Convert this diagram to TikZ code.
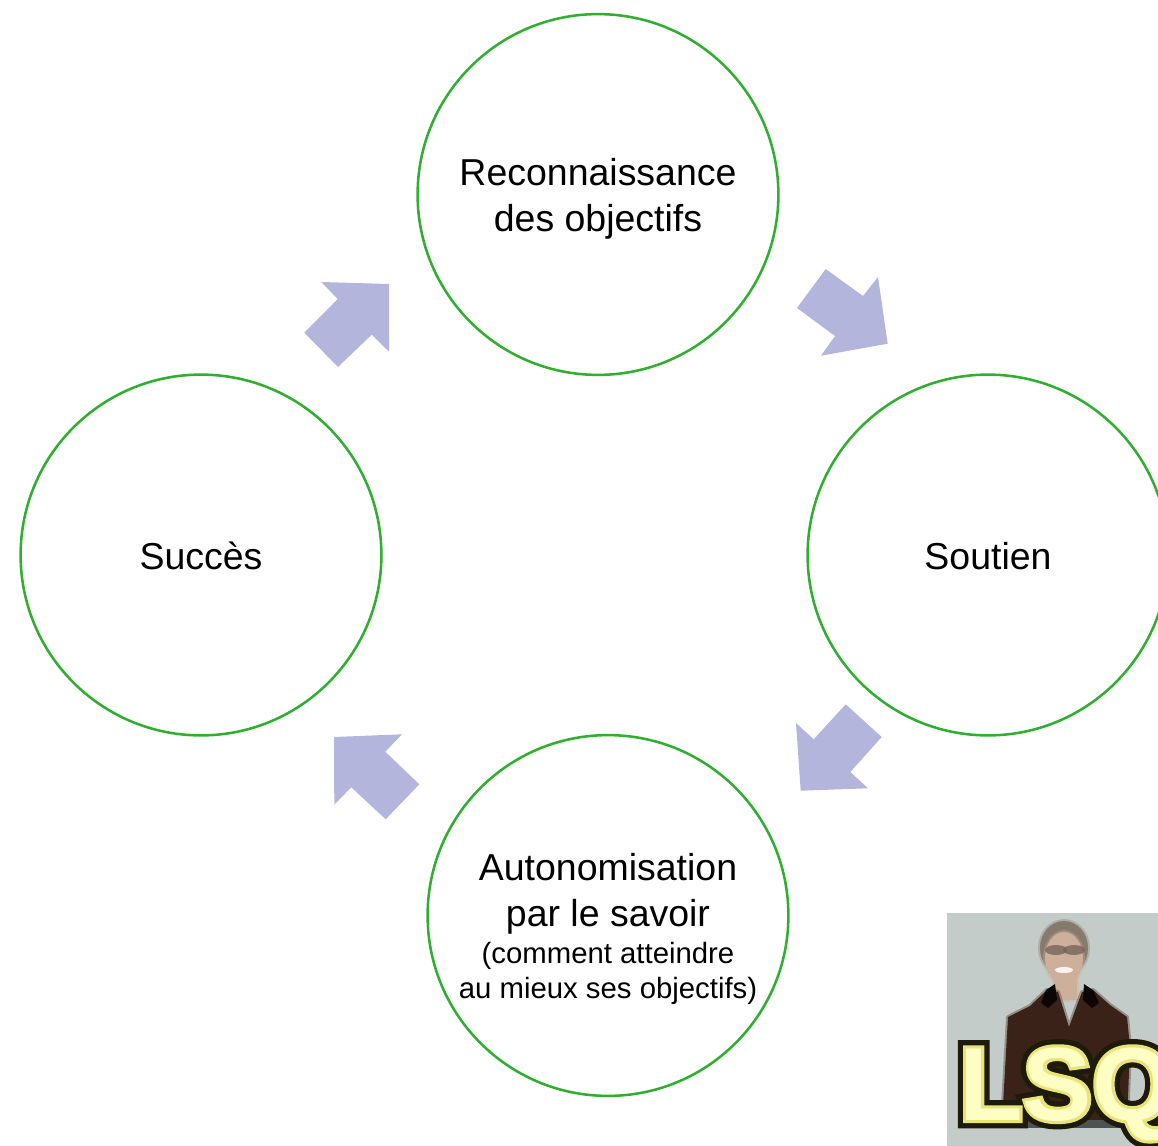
\documentclass[tikz,border=0pt]{standalone}
\usepackage{fontspec}
\setmainfont{Liberation Sans}
\newfontfamily\lsqheavy[FakeBold=16]{Liberation Sans Bold}
\newfontfamily\lsqmedium[FakeBold=6]{Liberation Sans Bold}
\newfontfamily\lsqplain{Liberation Sans Bold}
\definecolor{ringgreen}{HTML}{2FAE2F}
\definecolor{arrowblue}{HTML}{B4B5DC}
\definecolor{photobg}{HTML}{C3CCC8}
\definecolor{shirt}{HTML}{3A2219}
\definecolor{hairc}{HTML}{857A6C}
\definecolor{skin}{HTML}{CDB09A}
\definecolor{lsqdark}{HTML}{1E1A0C}
\definecolor{lsqmid}{HTML}{E8E478}
\definecolor{lsqpale}{HTML}{FDFDC4}
\tikzset{
  x=0.75pt,y=-0.75pt,
  ring/.style={circle,draw=ringgreen,line width=1.9pt,minimum size=270.6pt,inner sep=0pt},
  bigtext/.style={align=center,inner sep=0pt,anchor=base,text=black,font=\fontsize{28.1}{33.8}\selectfont},
  smalltext/.style={align=center,inner sep=0pt,anchor=base,text=black,font=\fontsize{22}{26.2}\selectfont},
  blockarrow/.style={fill=arrowblue,draw=none},
  soft/.style={draw opacity=0.35,line width=3pt,line join=round},
  lsqtext/.style={anchor=base west,inner sep=0pt},
}
\begin{document}
\begin{tikzpicture}
\useasboundingbox (0,0) rectangle (1158,1146);
\clip (0,0) rectangle (1158,1146);
% rings
\node[ring] (top) at (598,194.5) {};
\node[ring] (right) at (988,555) {};
\node[ring] (left) at (201,555) {};
\node[ring] (bottom) at (608,915.5) {};
\node[bigtext] (topT) at (598,231) {Reconnaissance\\des objectifs};
\node[bigtext] (rightT) at (988,569) {Soutien};
\node[bigtext] (leftT) at (201,569) {Succès};
\node[bigtext] (bottomA) at (608,926) {Autonomisation\\par le savoir};
\node[smalltext] (bottomB) at (608,998) {(comment atteindre\\au mieux ses objectifs)};
% block arrows
\fill[blockarrow] (825.7,269) -- (863,296) -- (878,277) -- (887.7,343.7) -- (821,355.7) -- (835,336) -- (797,308) -- cycle;
\fill[blockarrow] (845.7,704.3) -- (881.7,737) -- (850.3,772) -- (868,788.3) -- (800.7,790.7) -- (796,723) -- (813.7,739.3) -- cycle;
\fill[blockarrow] (334,737) -- (402,734.3) -- (385.3,751.7) -- (419.3,784.3) -- (385.7,819.3) -- (351.3,787.3) -- (334.3,804.7) -- cycle;
\fill[blockarrow] (321.3,282) -- (389,284) -- (389,351.7) -- (371.7,334.7) -- (338,367) -- (304.3,332.7) -- (337.7,299) -- cycle;
% LSQ photo
\fill[photobg] (947,913) rectangle (1158,1146);
\filldraw[fill=hairc,draw=hairc,soft] (1064,948) ellipse [x radius=24,y radius=27];
\filldraw[fill=skin,draw=skin,soft] (1064,958) ellipse [x radius=19,y radius=26];
\filldraw[fill=skin,draw=skin,soft] (1054,975) rectangle (1077,1000);
\fill[black!45!skin,opacity=.75] (1056,950) ellipse [x radius=11,y radius=5];
\fill[black!45!skin,opacity=.75] (1074,950) ellipse [x radius=11,y radius=5];
\fill[white!85!skin] (1064,970) ellipse [x radius=9,y radius=3];
\filldraw[fill=shirt,draw=shirt,soft] (1008,1017) -- (1030,1006) -- (1047,990) -- (1058,992) -- (1069,1027) -- (1082,992) -- (1093,990) -- (1110,1005) -- (1127,1017) -- (1130,1047) -- (1127,1123) -- (1002,1123) -- cycle;
\fill[black!80!shirt] (1046,990) -- (1055,984) -- (1057,1000) -- (1048,1008) -- (1041,1003) -- cycle;
\fill[black!80!shirt] (1093,990) -- (1084,984) -- (1083,1000) -- (1092,1008) -- (1099,1003) -- cycle;
\fill[black!60!photobg] (1005,1120) rectangle (1125,1128);
\node[lsqtext,text=lsqdark,font=\lsqheavy\fontsize{78}{78}\selectfont] (lsqo) at (959,1120) {LSQ};
\node[lsqtext,text=lsqmid,font=\lsqmedium\fontsize{78}{78}\selectfont] (lsqm) at (959,1120) {LSQ};
\node[lsqtext,text=lsqpale,font=\lsqplain\fontsize{78}{78}\selectfont] (lsq) at (959,1120) {LSQ};
\end{tikzpicture}
\end{document}
